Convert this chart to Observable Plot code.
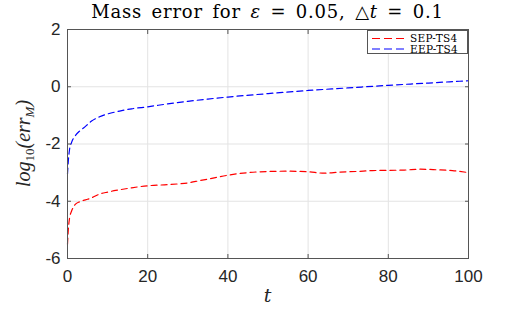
<!DOCTYPE html>
<html><head><meta charset="utf-8">
<script src="https://cdn.jsdelivr.net/npm/d3@7"></script>
<script src="https://cdn.jsdelivr.net/npm/@observablehq/plot@0.6"></script>
<style>body{margin:0;background:#fff}</style>
</head><body><div id="chart"></div>
<script>
const tSep = [0,0.2,0.5,1,1.5,2,3,4,5,6,8,10,13,16,20,25,28,30,33,36,40,45,50,55,60,64,68,72,76,80,84,88,92,96,100];
const ySep = [-5.5,-5.0,-4.6,-4.35,-4.2,-4.1,-4.02,-3.97,-3.93,-3.88,-3.75,-3.68,-3.6,-3.53,-3.46,-3.42,-3.39,-3.36,-3.28,-3.2,-3.09,-3.0,-2.96,-2.95,-2.97,-3.02,-2.98,-2.96,-2.93,-2.92,-2.91,-2.88,-2.9,-2.93,-3.0];
const tEep = [0,0.2,0.5,1,2,3,4,6,8,10,13,16,20,25,30,35,40,50,60,70,80,90,100];
const yEep = [-3.05,-2.6,-2.2,-1.95,-1.7,-1.55,-1.44,-1.2,-1.05,-0.95,-0.85,-0.77,-0.7,-0.6,-0.51,-0.43,-0.36,-0.24,-0.13,-0.04,0.05,0.13,0.21];
const seriesNames = ["SEP-TS4","EEP-TS4"];
const seriesColors = ["#ff0000","#0000ff"];
const xTicks = [0,20,40,60,80,100];
const yTicks = [-6,-4,-2,0,2];

const sep = tSep.map((t,i)=>({t, v:ySep[i]}));
const eep = tEep.map((t,i)=>({t, v:yEep[i]}));

const W=518,H=311,ML=67,MR=50,MT=29,MB=53;
const axisColor="#555";
const fmt = d => String(d);
const plot = Plot.plot({
  width:W,height:H,marginLeft:ML,marginRight:MR,marginTop:MT,marginBottom:MB,
  style:{fontFamily:"'Liberation Sans',Arial,sans-serif",fontSize:"17px",color:"#262626",background:"#fff"},
  x:{domain:[0,100],label:null},
  y:{domain:[-6,2],label:null},
  marks:[
    Plot.gridX(xTicks,{stroke:"#e3e3e3",strokeOpacity:1}),
    Plot.gridY(yTicks,{stroke:"#e3e3e3",strokeOpacity:1}),
    Plot.line(sep,{x:"t",y:"v",stroke:seriesColors[0],strokeWidth:1.2,strokeDasharray:"6,4",curve:"monotone-x"}),
    Plot.line(eep,{x:"t",y:"v",stroke:seriesColors[1],strokeWidth:1.2,strokeDasharray:"6,4",curve:"monotone-x"}),
    Plot.frame({stroke:axisColor,strokeWidth:1}),
    Plot.axisX(xTicks,{tickSize:-4,stroke:axisColor,tickFormat:()=>""}),
    Plot.axisX(xTicks,{anchor:"top",tickSize:-4,stroke:axisColor,tickFormat:()=>""}),
    Plot.axisY(yTicks,{tickSize:-4,stroke:axisColor,tickFormat:()=>""}),
    Plot.axisY(yTicks,{anchor:"right",tickSize:-4,stroke:axisColor,tickFormat:()=>""}),
    Plot.axisX(xTicks,{tickSize:0,tickPadding:11,tickFormat:fmt,fill:"#262626"}),
    Plot.axisY(yTicks,{tickSize:0,tickPadding:7,tickFormat:fmt,fill:"#262626"})
  ]
});
document.getElementById("chart").appendChild(plot);
const svg = d3.select(plot);
const serif = "'DejaVu Serif','Liberation Serif',serif";
// title
const title = svg.append("text").attr("x",(ML+W-MR)/2).attr("y",18).attr("text-anchor","middle")
  .attr("font-family",serif).attr("font-size",18).attr("letter-spacing","0.8px").attr("word-spacing","3px").attr("fill","#000");
title.append("tspan").text("Mass error for ");
title.append("tspan").attr("font-style","italic").text("ε");
title.append("tspan").text(" = 0.05, △");
title.append("tspan").attr("font-style","italic").text("t");
title.append("tspan").text(" = 0.1");
// x label
svg.append("text").attr("x",(ML+W-MR)/2).attr("y",302).attr("text-anchor","middle")
  .attr("font-family",serif).attr("font-style","italic").attr("font-size",19).attr("fill","#262626").text("t");
// y label
const yl = svg.append("text").attr("transform",`translate(30,${(MT+H-MB)/2}) rotate(-90)`).attr("text-anchor","middle")
  .attr("font-family","'Liberation Serif',serif").attr("font-style","italic").attr("font-size",20).attr("fill","#262626");
yl.append("tspan").text("log");
yl.append("tspan").attr("font-size",13).attr("font-style","normal").attr("dy",4).text("10");
yl.append("tspan").attr("dy",-4).text("(err");
yl.append("tspan").attr("font-size",13).attr("dy",4).text("M");
yl.append("tspan").attr("dy",-4).text(")");
// legend
const lg = svg.append("g").attr("text-anchor","start");
lg.append("rect").attr("x",367.5).attr("y",30.5).attr("width",100).attr("height",23).attr("fill","#fff").attr("stroke",axisColor);
seriesNames.forEach((n,i)=>{
  const y = 38.5 + i*10.5;
  lg.append("line").attr("x1",372).attr("x2",408).attr("y1",y).attr("y2",y).attr("stroke",seriesColors[i]).attr("stroke-width",1.2).attr("stroke-dasharray","8,4");
  lg.append("text").attr("x",410).attr("y",y+3.5).attr("text-anchor","start").attr("font-family",serif).attr("font-size",10.5).attr("letter-spacing","0.3px").attr("fill","#000").text(n);
});
</script></body></html>
